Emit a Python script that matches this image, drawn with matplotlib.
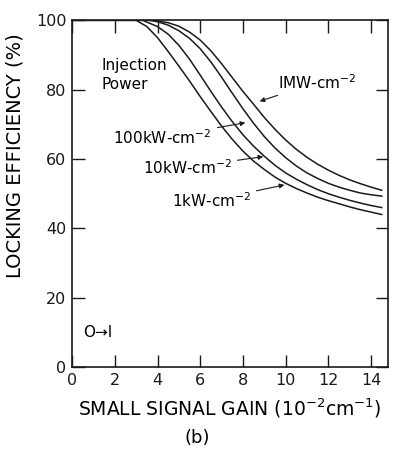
import matplotlib
matplotlib.use("Agg")
import matplotlib.pyplot as plt

plt.rcParams["font.family"] = ["DejaVu Sans"]

# small signal gain (10^-2 cm^-1) vs locking efficiency (%)
gain_1mw = [0, 3.8, 4.5, 5.0, 5.5, 6.0, 6.5, 7.0, 7.5, 8.0, 8.5, 9.0, 9.5, 10.0,
            10.5, 11.0, 11.5, 12.0, 12.5, 13.0, 13.5, 14.0, 14.5]
eff_1mw = [100, 100, 99.3, 98.3, 96.6, 94.3, 91.2, 87.5, 83.5, 79.5, 75.8, 72.0,
           68.6, 65.5, 62.8, 60.5, 58.5, 56.8, 55.3, 54.0, 52.9, 51.9, 51.0]

gain_100kw = [0, 3.6, 4.0, 4.5, 5.0, 5.5, 6.0, 6.5, 7.0, 7.5, 8.0, 8.5, 9.0, 9.5,
              10.0, 10.5, 11.0, 11.5, 12.0, 12.5, 13.0, 13.5, 14.0, 14.5]
eff_100kw = [100, 100, 99.6, 98.6, 97.0, 94.8, 91.8, 88.0, 83.6, 79.0, 74.5, 70.3,
             66.5, 63.2, 60.4, 58.0, 56.0, 54.4, 53.0, 51.9, 51.0, 50.2, 49.7, 49.3]

gain_10kw = [0, 3.3, 4.0, 4.5, 5.0, 5.5, 6.0, 6.5, 7.0, 7.5, 8.0, 8.5, 9.0, 9.5,
             10.0, 10.5, 11.0, 11.5, 12.0, 12.5, 13.0, 13.5, 14.0, 14.5]
eff_10kw = [100, 100, 98.2, 96.0, 92.8, 88.8, 84.2, 79.5, 75.0, 70.8, 67.0, 63.7,
            60.8, 58.2, 56.0, 54.2, 52.6, 51.2, 50.0, 49.0, 48.1, 47.3, 46.6, 46.0]

gain_1kw = [0, 3.0, 3.5, 4.0, 4.5, 5.0, 5.5, 6.0, 6.5, 7.0, 7.5, 8.0, 8.5, 9.0, 9.5,
            10.0, 10.5, 11.0, 11.5, 12.0, 12.5, 13.0, 13.5, 14.0, 14.5]
eff_1kw = [100, 100, 98.2, 95.0, 91.0, 86.8, 82.5, 78.0, 73.7, 69.5, 65.7, 62.3,
           59.4, 57.0, 54.8, 53.0, 51.5, 50.2, 49.0, 48.0, 47.1, 46.2, 45.4, 44.7, 44.0]

x_ticks = [0, 2, 4, 6, 8, 10, 12, 14]
y_ticks = [0, 20, 40, 60, 80, 100]

LINE = "#1a1a1a"

fig = plt.figure(figsize=(3.94, 4.51), dpi=100)
ax = fig.add_axes([0.183, 0.186, 0.802, 0.769])

for gx, ey in [(gain_1mw, eff_1mw), (gain_100kw, eff_100kw),
               (gain_10kw, eff_10kw), (gain_1kw, eff_1kw)]:
    ax.plot(gx, ey, color=LINE, lw=1.1)

ax.set_xlim(0, 14.8)
ax.set_ylim(0, 100)
ax.set_xticks(x_ticks)
ax.set_yticks(y_ticks)
ax.tick_params(direction="in", length=9, width=1, top=True, right=True,
               labelsize=11.5, pad=4, colors=LINE)
for s in ax.spines.values():
    s.set_linewidth(1.2)
    s.set_color(LINE)

ax.set_xlabel("SMALL SIGNAL GAIN (10$^{-2}$cm$^{-1}$)", fontsize=13.5, labelpad=6)
ax.set_ylabel("LOCKING EFFICIENCY (%)", fontsize=14)
ax.yaxis.set_label_coords(-0.15, 0.61)
fig.text(0.5, 0.018, "(b)", ha="center", fontsize=13)

ax.text(1.4, 89, "Injection\nPower", fontsize=11, va="top", ha="left",
        linespacing=1.3)
ax.text(0.5, 10, "O\u2192I", fontsize=11, va="center", ha="left")

arrow = dict(arrowstyle="-|>", color=LINE, lw=0.8, mutation_scale=7)
ax.annotate("IMW-cm$^{-2}$", xy=(8.66, 76.4), xytext=(9.64, 82.1),
            fontsize=11, ha="left", va="center", arrowprops=arrow)
ax.annotate("100kW-cm$^{-2}$", xy=(8.24, 70.6), xytext=(6.55, 66.3),
            fontsize=11, ha="right", va="center", arrowprops=arrow)
ax.annotate("10kW-cm$^{-2}$", xy=(9.08, 60.8), xytext=(7.49, 57.6),
            fontsize=11, ha="right", va="center", arrowprops=arrow)
ax.annotate("1kW-cm$^{-2}$", xy=(10.07, 52.7), xytext=(8.38, 48.1),
            fontsize=11, ha="right", va="center", arrowprops=arrow)

fig.savefig("out.png", dpi=100)
